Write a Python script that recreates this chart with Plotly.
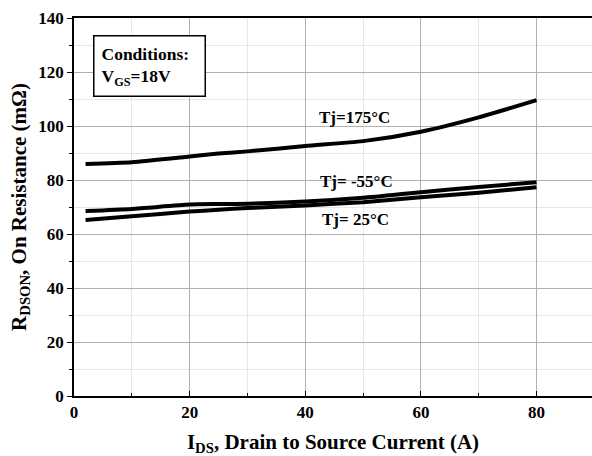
import plotly.graph_objects as go

current = [2, 10, 20, 25, 30, 40, 50, 60, 70, 80]
r_175 = [85.9, 86.6, 88.7, 89.8, 90.6, 92.6, 94.4, 97.9, 103.2, 109.6]
r_m55 = [68.5, 69.3, 70.9, 71.1, 71.2, 72.0, 73.4, 75.5, 77.4, 79.2]
r_25 = [65.2, 66.6, 68.3, 69.0, 69.6, 70.6, 71.8, 73.6, 75.3, 77.3]

labels = ["Tj=175°C", "Tj= -55°C", "Tj= 25°C"]
label_pos = [(48.6, 103.2), (48.9, 79.4), (48.7, 65.2)]

FONT = "Liberation Serif, Times New Roman, serif"

fig = go.Figure()
for ys in (r_175, r_m55, r_25):
    fig.add_trace(go.Scatter(x=current, y=ys, mode="lines",
                             line=dict(color="black", width=4, shape="spline", smoothing=0.6),
                             showlegend=False, hoverinfo="skip"))

for txt, (lx, ly) in zip(labels, label_pos):
    fig.add_annotation(x=lx, y=ly, text="<b>" + txt + "</b>", showarrow=False,
                       font=dict(family=FONT, size=17, color="black"))

fig.add_annotation(xref="paper", yref="paper", x=0.0366, y=0.955, xanchor="left", yanchor="top",
                   text="<b>Conditions:</b>&nbsp;&nbsp;<br><b>V<sub>GS</sub>=18V</b>", align="left",
                   showarrow=False, bordercolor="black", borderwidth=1.5, borderpad=7,
                   bgcolor="white", font=dict(family=FONT, size=17.5, color="black"))

fig.update_layout(
    width=592, height=456,
    margin=dict(l=74, r=0, t=18, b=60, autoexpand=False),
    paper_bgcolor="white", plot_bgcolor="white",
    font=dict(family=FONT, size=14, color="black"),
    xaxis=dict(range=[0, 89.6], tickvals=[0, 20, 40, 60, 80], showline=True, linecolor="black",
               linewidth=1.5, mirror=True, ticks="inside", ticklen=5, tickcolor="black",
               showgrid=True, gridcolor="#b0b0b0", gridwidth=1, zeroline=False, automargin=False,
               minor=dict(dtick=10, showgrid=True, gridcolor="#e6e6e6", ticks="inside", ticklen=3, tickcolor="black"),
               tickfont=dict(family=FONT, size=17, color="black", weight="bold"),
               title=dict(text="<b>I<sub>DS</sub>, Drain to Source Current (A)</b>", font=dict(family=FONT, size=21), standoff=13)),
    yaxis=dict(range=[0, 140], dtick=20, showline=True, linecolor="black", linewidth=1.5,
               ticks="outside", ticklen=5, tickcolor="black",
               showgrid=True, gridcolor="#b0b0b0", gridwidth=1, zeroline=False, automargin=False,
               minor=dict(dtick=10, showgrid=True, gridcolor="#e6e6e6", ticks="outside", ticklen=3, tickcolor="black"),
               tickfont=dict(family=FONT, size=17, color="black", weight="bold"),
               title=dict(text="<b>R<sub>DSON</sub>, On Resistance (mΩ)</b>", font=dict(family=FONT, size=21), standoff=6)),
)

# remove the page's default body margin so the 592x456 figure fills the window exactly
fig.write_html("out.html", config={"displayModeBar": False},
               post_script="document.body.style.margin='0';document.body.style.overflow='hidden';")
